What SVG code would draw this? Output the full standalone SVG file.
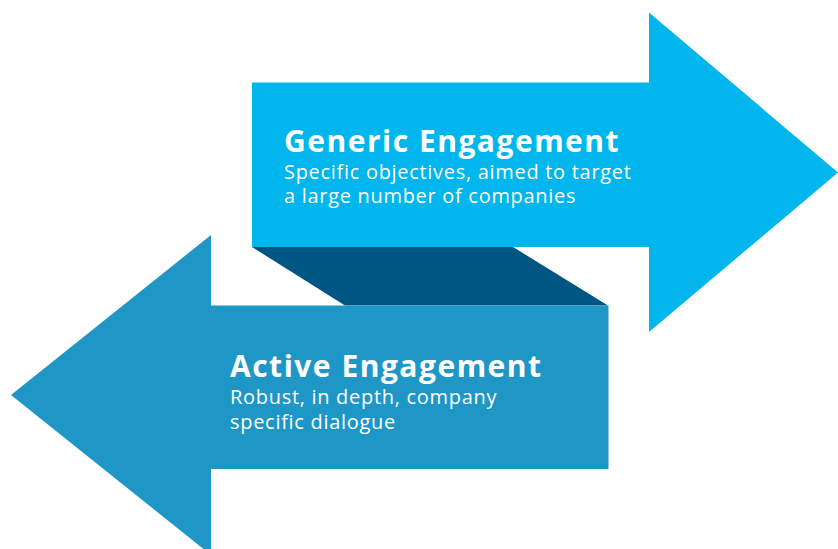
<svg xmlns="http://www.w3.org/2000/svg" width="838" height="549" viewBox="0 0 838 549">
<style>
.title{font-family:"Open Sans","Noto Sans",sans-serif;font-weight:700;font-size:30px;letter-spacing:1.5px;fill:#ffffff}
.sub{font-family:"Open Sans","Noto Sans",sans-serif;font-weight:400;font-size:20px;letter-spacing:0.7px;fill:#ffffff}
</style>
<rect width="838" height="549" fill="#ffffff"/>
<g id="fold">
<polygon points="252,247 513,247 608,305.5 345,305.5" fill="#005682"/>
</g>
<g id="generic">
<polygon points="252,82.5 649,82.5 649,12.5 838,172.5 649,332 649,247 252,247" fill="#00B6ED"/>
<text class="title" x="284" y="151.5">Generic Engagement</text>
<text class="sub" x="284" y="178.5">Specific objectives, aimed to target</text>
<text class="sub" x="284" y="203">a large number of companies</text>
</g>
<g id="active">
<polygon points="608.5,305.5 211,305.5 211,235 11,395 211,555 211,469 608.5,469" fill="#1E96C6"/>
<text class="title" x="230" y="377">Active Engagement</text>
<text class="sub" x="230" y="404">Robust, in depth, company</text>
<text class="sub" x="230" y="428.5">specific dialogue</text>
</g>
<g id="connectors"></g>
</svg>
